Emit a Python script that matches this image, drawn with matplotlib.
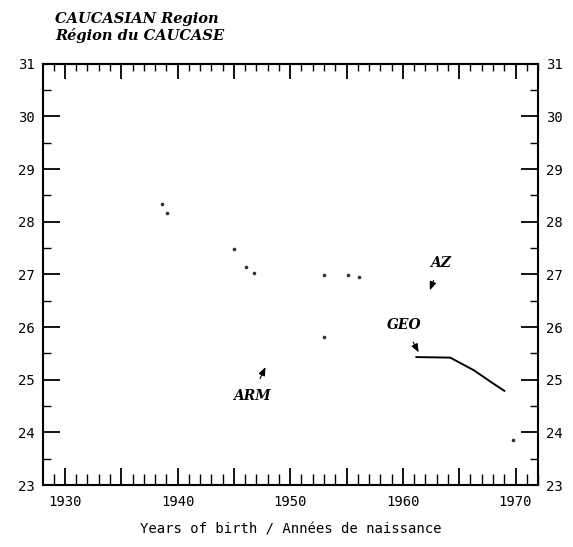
"""
plot.py

Recreates the Caucasian region chart against year of birth.
"""

# Importing in libraries
import matplotlib.pyplot as plt
from matplotlib.ticker import MultipleLocator

# scattered dots
dot_years = [1938.6, 1939.1, 1945.0, 1946.1, 1946.8, 1953.0, 1955.1, 1956.1, 1953.0, 1969.8]
dot_values = [28.33, 28.17, 27.49, 27.15, 27.03, 26.99, 26.99, 26.95, 25.82, 23.85]

# GEO curve
geo_years = [1961.2, 1964.2, 1966.3, 1967.8, 1969.0]
geo_values = [25.43, 25.42, 25.18, 24.96, 24.79]

# labels with arrow tips: (name, text position, arrow tip)
labels = ["AZ", "GEO", "ARM"]
label_pos = [(1963.3, 27.22), (1960.1, 26.04), (1946.6, 24.69)]
arrow_tip = [(1962.4, 26.70), (1961.4, 25.52), (1947.8, 25.24)]

y_ticks = [23, 24, 25, 26, 27, 28, 29, 30, 31]
x_ticks = [1930, 1935, 1940, 1945, 1950, 1955, 1960, 1965, 1970]
x_tick_labels = ["1930", "", "1940", "", "1950", "", "1960", "", "1970"]

fig = plt.figure(figsize=(5.73, 5.47), dpi=100)
ax = fig.add_axes([0.075, 0.1133, 0.864, 0.770])

ax.plot(dot_years, dot_values, linestyle="none", marker="o", markersize=1.6, color="#333333")
ax.plot(geo_years, geo_values, color="black", linewidth=1.4)

for name, pos, tip in zip(labels, label_pos, arrow_tip):
    ax.annotate(name, xy=tip, xytext=pos, ha="center", va="center",
                fontsize=10, fontfamily="DejaVu Serif", fontweight="bold", fontstyle="italic",
                arrowprops=dict(arrowstyle="-|>,head_length=0.5,head_width=0.2",
                                color="black", lw=0.8, shrinkA=6, shrinkB=0))

ax.set_xlim(1928.05, 1972.0)
ax.set_ylim(23, 31)
ax.set_xticks(x_ticks)
ax.set_xticklabels(x_tick_labels)
ax.set_yticks(y_ticks)
ax.xaxis.set_minor_locator(MultipleLocator(1))
ax.yaxis.set_minor_locator(MultipleLocator(0.5))

# bottom axis: long 5-year ticks, fairly long yearly ticks
ax.tick_params(axis="x", which="major", direction="in", length=12, width=1.3,
               top=False, bottom=True, pad=7)
ax.tick_params(axis="x", which="minor", direction="in", length=8, width=1.0,
               top=False, bottom=True)
ax.tick_params(axis="y", which="major", direction="in", length=12.5, width=1.3,
               left=True, right=True, labelleft=True, labelright=True, pad=6)
ax.tick_params(axis="y", which="minor", direction="in", length=6, width=1.0,
               left=True, right=True)
for lab in ax.get_xticklabels() + ax.get_yticklabels():
    lab.set_fontfamily("DejaVu Sans Mono")
    lab.set_fontsize(10)

# top axis has shorter yearly ticks
top = ax.secondary_xaxis("top")
top.set_xticks(x_ticks)
top.xaxis.set_minor_locator(MultipleLocator(1))
top.tick_params(axis="x", which="major", direction="in", length=11, width=1.3, labeltop=False)
top.tick_params(axis="x", which="minor", direction="in", length=5, width=1.0)
top.spines["top"].set_linewidth(1.5)

for side in ax.spines.values():
    side.set_linewidth(1.5)

ax.set_xlabel("Years of birth / Années de naissance", fontfamily="DejaVu Sans Mono",
              fontsize=10, labelpad=10)

fig.text(0.096, 0.965, "CAUCASIAN Region", fontfamily="DejaVu Serif", fontsize=10.5,
         fontweight="bold", fontstyle="italic", va="center")
fig.text(0.096, 0.935, "Région du CAUCASE", fontfamily="DejaVu Serif", fontsize=10.5,
         fontweight="bold", fontstyle="italic", va="center")

fig.savefig("out.png", dpi=100)
